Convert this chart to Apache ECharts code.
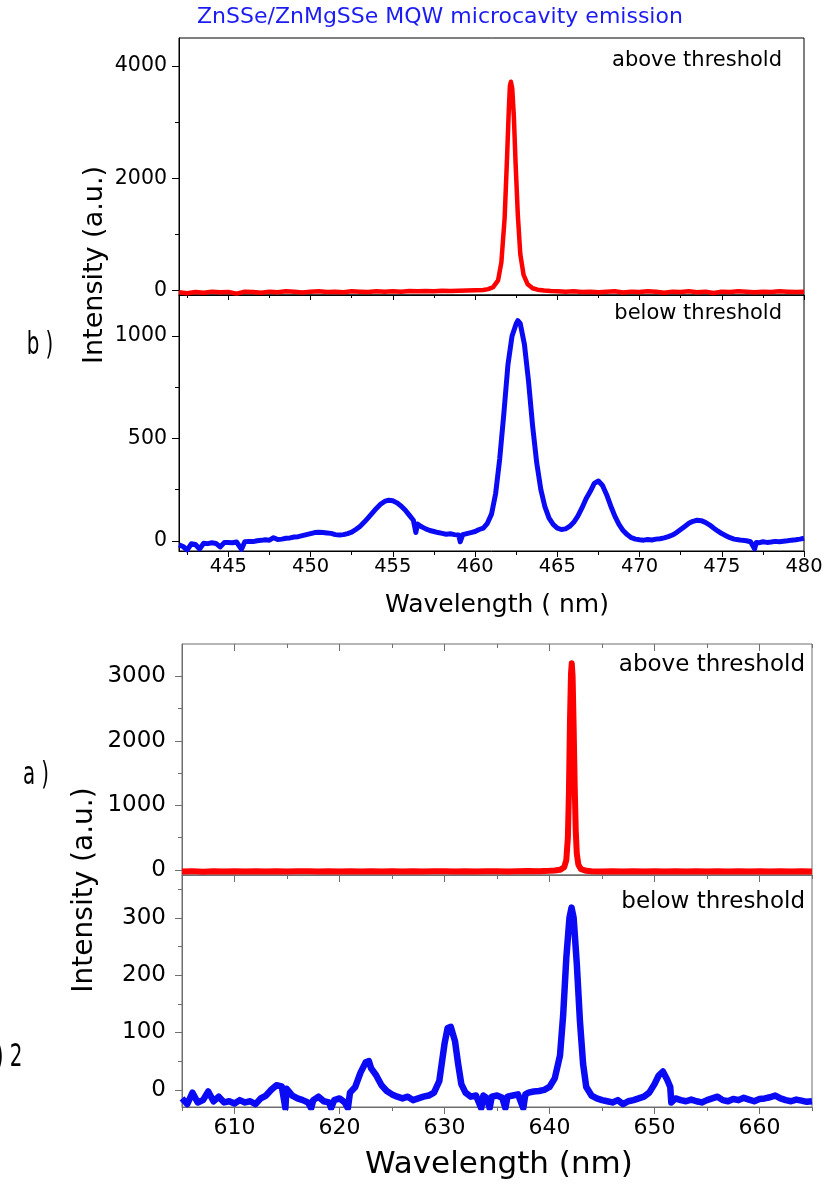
<!DOCTYPE html>
<html>
<head>
<meta charset="utf-8">
<script src="https://cdn.jsdelivr.net/npm/echarts@6/dist/echarts.min.js"></script>
<style>
  html, body { margin: 0; padding: 0; background: #fff; }
  #chart { width: 827px; height: 1195px; }
</style>
</head>
<body>
<div id="chart"></div>
<script>
// ---- Spectra: [wavelength (nm), intensity (a.u.)] ----

// b) ~462 nm cavity, above threshold
const bAbove = [
  [442,-30],[442.5,-50],[443,-25],[443.5,-40],[444,-20],[444.5,-30],[445,-25],[445.5,-55],[446,-20],[446.5,-25],
  [447,-40],[447.5,-20],[448,-30],[448.5,-15],[449,-20],[449.5,-35],[450,-20],[450.5,-15],[451,-25],[451.5,-20],
  [452,-30],[452.5,-15],[453,-20],[453.5,-25],[454,-15],[454.5,-20],[455,-15],[455.5,-20],[456,-10],[456.5,-15],
  [457,-10],[457.5,-15],[458,-5],[458.5,-10],[459,-5],[459.5,0],[460,5],[460.5,10],[460.8,25],[461.1,60],
  [461.4,180],[461.6,500],[461.8,1300],[461.95,2400],[462.05,3200],[462.12,3650],[462.18,3720],[462.26,3600],
  [462.36,3100],[462.46,2300],[462.6,1350],[462.75,650],[462.95,280],[463.2,110],[463.5,40],[463.8,15],[464.2,0],
  [464.6,-10],[465,-15],[465.5,-20],[466,-15],[466.5,-25],[467,-20],[467.5,-30],[468,-20],[468.5,-15],[469,-35],
  [469.5,-20],[470,-25],[470.5,-15],[471,-20],[471.5,-40],[472,-20],[472.5,-25],[473,-15],[473.5,-30],[474,-20],
  [474.5,-45],[475,-20],[475.5,-25],[476,-15],[476.5,-20],[477,-30],[477.5,-20],[478,-25],[478.5,-15],[479,-20],
  [479.5,-25],[480,-20]
];

// b) ~462 nm cavity, below threshold
const bBelow = [
  [442,-20],[442.25,-28],[442.5,-45],[442.75,-15],[443,-18],[443.25,-40],[443.5,-12],[443.75,-14],[444,-10],
  [444.25,-13],[444.5,-30],[444.75,-9],[445,-8],[445.25,-10],[445.5,-6],[445.8,-42],[446,-5],[446.25,-3],
  [446.5,-4],[446.75,0],[447,2],[447.25,5],[447.5,3],[447.75,15],[448,6],[448.25,8],[448.5,12],[448.75,14],
  [449,18],[449.25,20],[449.5,25],[449.75,30],[450,35],[450.25,40],[450.5,42],[450.75,40],[451,38],[451.25,36],
  [451.5,30],[451.75,28],[452,30],[452.25,35],[452.5,42],[452.75,55],[453,70],[453.25,90],[453.5,112],
  [453.75,135],[454,158],[454.25,178],[454.5,192],[454.75,198],[455,195],[455.25,185],[455.5,170],[455.75,150],
  [456,125],[456.25,100],[456.4,40],[456.5,82],[456.75,68],[457,58],[457.25,50],[457.5,45],[457.75,40],
  [458,36],[458.25,32],[458.5,34],[458.75,30],[459,28],[459.1,-5],[459.25,30],[459.5,35],[459.75,40],[460,45],
  [460.25,55],[460.5,62],[460.75,85],[461,130],[461.25,230],[461.5,400],[461.75,620],[462,860],[462.25,1000],
  [462.5,1060],[462.6,1075],[462.75,1060],[463,960],[463.25,780],[463.5,560],[463.75,380],[464,250],[464.25,165],
  [464.5,110],[464.75,80],[465,62],[465.25,55],[465.5,58],[465.75,70],[466,90],[466.25,120],[466.5,160],
  [466.75,205],[467,240],[467.25,280],[467.5,292],[467.75,270],[468,225],[468.25,170],[468.5,120],[468.75,80],
  [469,50],[469.25,30],[469.5,15],[469.75,8],[470,5],[470.25,3],[470.5,6],[470.75,4],[471,8],[471.25,10],
  [471.5,14],[471.75,20],[472,28],[472.25,40],[472.5,55],[472.75,70],[473,85],[473.25,95],[473.5,100],
  [473.75,98],[474,90],[474.25,78],[474.5,62],[474.75,48],[475,35],[475.25,25],[475.5,15],[475.75,8],[476,5],
  [476.25,2],[476.5,0],[476.75,-5],[477,-40],[477.1,-8],[477.25,-10],[477.5,-5],[477.75,-8],[478,-6],
  [478.25,-3],[478.5,-5],[478.75,-2],[479,0],[479.25,3],[479.5,5],[479.75,8],[480,12]
];

// a) ~642 nm cavity, above threshold
const aAbove = [
  [605,-25],[606,-20],[607,-28],[608,-22],[609,-25],[610,-20],[611,-26],[612,-22],[613,-25],[614,-21],
  [615,-27],[616,-23],[617,-20],[618,-26],[619,-22],[620,-24],[621,-20],[622,-25],[623,-22],[624,-27],
  [625,-21],[626,-24],[627,-20],[628,-25],[629,-22],[630,-20],[631,-24],[632,-21],[633,-26],[634,-22],
  [635,-20],[636,-24],[637,-21],[638,-18],[639,-20],[640,-15],[640.5,-10],[641,0],[641.4,40],[641.6,150],
  [641.75,500],[641.85,1200],[641.95,2300],[642.05,3050],[642.12,3200],[642.2,3000],[642.3,2200],[642.4,1300],
  [642.5,600],[642.6,250],[642.75,80],[643,10],[643.5,-15],[644,-22],[645,-25],[646,-21],[647,-26],[648,-22],
  [649,-24],[650,-20],[651,-25],[652,-22],[653,-27],[654,-21],[655,-24],[656,-22],[657,-26],[658,-20],
  [659,-24],[660,-22],[661,-25],[662,-21],[663,-26],[664,-23],[665,-24]
];

// a) ~642 nm cavity, below threshold
const aBelow = [
  [605,-15],[605.5,-25],[606,-5],[606.5,-22],[607,-18],[607.5,-3],[608,-20],[608.5,-12],[609,-22],[609.5,-20],
  [610,-24],[610.5,-18],[611,-22],[611.5,-20],[612,-25],[612.5,-15],[613,-10],[613.5,0],[614,8],[614.5,6],
  [614.85,-32],[614.95,2],[615,0],[615.5,-10],[616,-15],[616.5,-18],[617,-22],[617.3,-32],[617.5,-18],
  [618,-12],[618.5,-20],[619,-22],[619.2,-32],[619.5,-18],[620,-15],[620.5,-22],[620.8,-32],[621,-5],
  [621.5,5],[622,30],[622.5,48],[622.8,50],[623,38],[623.5,25],[624,8],[624.5,-2],[625,-8],[625.5,-12],
  [626,-15],[626.5,-12],[627,-18],[627.5,-15],[628,-12],[628.5,-10],[629,-5],[629.5,15],[630,80],[630.3,108],
  [630.6,110],[631,85],[631.3,45],[631.6,10],[632,-5],[632.5,-12],[633,-10],[633.5,-32],[633.7,-10],[634,-14],
  [634.3,-32],[634.5,-12],[635,-10],[635.5,-14],[635.8,-32],[636,-12],[636.5,-10],[637,-8],[637.5,-32],
  [637.7,-8],[638,-5],[638.5,-3],[639,-2],[639.5,0],[640,5],[640.5,20],[641,60],[641.3,130],[641.6,230],
  [641.9,300],[642.1,318],[642.3,300],[642.6,220],[642.9,120],[643.2,45],[643.5,5],[644,-10],[644.5,-15],
  [645,-18],[645.5,-20],[646,-22],[646.5,-18],[647,-25],[647.5,-20],[648,-18],[648.5,-15],[649,-12],[649.5,-5],
  [650,10],[650.4,25],[650.8,32],[651.2,18],[651.5,5],[651.6,-22],[652,-15],[652.5,-18],[653,-20],[653.5,-17],
  [654,-20],[654.5,-22],[655,-18],[655.5,-15],[656,-12],[656.5,-18],[657,-20],[657.5,-16],[658,-18],
  [658.5,-14],[659,-17],[659.5,-20],[660,-16],[660.5,-15],[661,-13],[661.5,-10],[662,-15],[662.5,-18],
  [663,-20],[663.5,-17],[664,-19],[664.5,-21],[665,-20]
];

// ---- Axis ticks ----
const bWlMajor = [445, 450, 455, 460, 465, 470, 475, 480];
const bWlMinor = [442.5, 447.5, 452.5, 457.5, 462.5, 467.5, 472.5, 477.5];
const aWlMajor = [610, 620, 630, 640, 650, 660];
const aWlMinor = [605, 615, 625, 635, 645, 655, 665];
const bAboveMajor = [0, 2000, 4000];
const bAboveMinor = [1000, 3000];
const bBelowMajor = [0, 500, 1000];
const bBelowMinor = [250, 750];
const aAboveMajor = [0, 1000, 2000, 3000];
const aAboveMinor = [500, 1500, 2500];
const aBelowMajor = [0, 100, 200, 300];
const aBelowMinor = [50, 150, 250, 350];

// ---- Texts ----
const titleText = 'ZnSSe/ZnMgSSe MQW microcavity emission';
const aboveText = 'above threshold';
const belowText = 'below threshold';
const yTitle = 'Intensity (a.u.)';
const xTitleB = 'Wavelength ( nm)';
const xTitleA = 'Wavelength (nm)';

const FONT = '"DejaVu Sans", "Liberation Sans", sans-serif';
const INK_B = '#000000';
const INK_A = '#6e6e6e';
const RED = '#ff0000';
const BLUE = '#0a0af5';

const xAxes = [];
const yAxes = [];

function axis(list, grid, min, max, o) {
  list.push({
    type: 'value', gridIndex: grid, min: min, max: max, position: o.pos,
    axisLine: { show: !!o.line, onZero: false, lineStyle: { color: o.color, width: 1 } },
    axisTick: o.ticks ? { show: true, inside: !!o.inside, length: o.len, customValues: o.ticks,
                          lineStyle: { color: o.color, width: 1 } } : { show: false },
    axisLabel: o.labels ? { show: true, customValues: o.labels, margin: o.margin, fontFamily: FONT,
                            fontSize: o.fs, color: '#000', formatter: function (v) { return String(v); } }
                        : { show: false },
    splitLine: { show: false }
  });
  return list.length - 1;
}

// Panel b (upper figure)
const gB1 = 0, gB2 = 1, gA1 = 2, gA2 = 3;
const xB1 = axis(xAxes, gB1, 442, 480, { pos: 'bottom', line: true, color: INK_B });
const xB2 = axis(xAxes, gB2, 442, 480, { pos: 'bottom', line: true, color: INK_B, ticks: bWlMajor, len: 6,
                                       labels: bWlMajor, margin: 6, fs: 19.5 });
axis(xAxes, gB2, 442, 480, { pos: 'bottom', color: INK_B, ticks: bWlMinor, len: 4 });
axis(xAxes, gB2, 442, 480, { pos: 'top', color: INK_B, ticks: bWlMajor, len: 5, inside: true });
axis(xAxes, gB2, 442, 480, { pos: 'top', color: INK_B, ticks: bWlMinor, len: 3, inside: true });

const yB1 = axis(yAxes, gB1, -80, 4500, { pos: 'left', line: true, color: INK_B, ticks: bAboveMajor, len: 7,
                                        labels: bAboveMajor, margin: 12, fs: 20.5 });
axis(yAxes, gB1, -80, 4500, { pos: 'left', color: INK_B, ticks: bAboveMinor, len: 4 });
const yB2 = axis(yAxes, gB2, -50, 1200, { pos: 'left', line: true, color: INK_B, ticks: bBelowMajor, len: 7,
                                        labels: bBelowMajor, margin: 12, fs: 20.5 });
axis(yAxes, gB2, -50, 1200, { pos: 'left', color: INK_B, ticks: bBelowMinor, len: 4 });

// Panel a (lower figure)
const xA1 = axis(xAxes, gA1, 605, 665, { pos: 'bottom', line: true, color: INK_A });
axis(xAxes, gA1, 605, 665, { pos: 'top', color: INK_A, ticks: aWlMajor, len: 7, inside: true });
axis(xAxes, gA1, 605, 665, { pos: 'top', color: INK_A, ticks: aWlMinor, len: 4, inside: true });
const xA2 = axis(xAxes, gA2, 605, 665, { pos: 'bottom', line: true, color: INK_A, ticks: aWlMajor, len: 7,
                                       labels: aWlMajor, margin: 10, fs: 22 });
axis(xAxes, gA2, 605, 665, { pos: 'bottom', color: INK_A, ticks: aWlMinor, len: 4 });
axis(xAxes, gA2, 605, 665, { pos: 'top', color: INK_A, ticks: aWlMajor, len: 7, inside: true });
axis(xAxes, gA2, 605, 665, { pos: 'top', color: INK_A, ticks: aWlMinor, len: 4, inside: true });

const yA1 = axis(yAxes, gA1, -80, 3500, { pos: 'left', line: true, color: INK_A, ticks: aAboveMajor, len: 7,
                                        labels: aAboveMajor, margin: 16, fs: 23 });
axis(yAxes, gA1, -80, 3500, { pos: 'left', color: INK_A, ticks: aAboveMinor, len: 4 });
const yA2 = axis(yAxes, gA2, -30, 375, { pos: 'left', line: true, color: INK_A, ticks: aBelowMajor, len: 7,
                                       labels: aBelowMajor, margin: 16, fs: 23 });
axis(yAxes, gA2, -30, 375, { pos: 'left', color: INK_A, ticks: aBelowMinor, len: 4 });

function spectrum(data, xi, yi, color, width) {
  return {
    type: 'line', data: data, xAxisIndex: xi, yAxisIndex: yi, showSymbol: false, symbol: 'none',
    clip: true, lineStyle: { color: color, width: width, join: 'round' }, itemStyle: { color: color },
    emphasis: { disabled: true }, z: 3
  };
}

function label(text, x, y, size, align, extra, fill) {
  return Object.assign({
    type: 'text', x: x, y: y, silent: true,
    style: { text: text, font: 'normal ' + size + 'px ' + FONT, fill: fill || '#000',
             textAlign: align, textVerticalAlign: 'middle' }
  }, extra || {});
}

const chart = echarts.init(document.getElementById('chart'), null, { renderer: 'canvas' });
chart.setOption({
  animation: false,
  backgroundColor: '#ffffff',
  grid: [
    { left: 179, top: 38, width: 625, height: 257, show: true, borderColor: INK_B, borderWidth: 1 },
    { left: 179, top: 295, width: 625, height: 256, show: true, borderColor: INK_B, borderWidth: 1 },
    { left: 182, top: 644, width: 630, height: 231, show: true, borderColor: INK_A, borderWidth: 1 },
    { left: 182, top: 875, width: 630, height: 232, show: true, borderColor: INK_A, borderWidth: 1 }
  ],
  xAxis: xAxes,
  yAxis: yAxes,
  series: [
    spectrum(bAbove, xB1, yB1, RED, 4.5),
    spectrum(bBelow, xB2, yB2, BLUE, 5),
    spectrum(aAbove, xA1, yA1, RED, 6),
    spectrum(aBelow, xA2, yA2, BLUE, 6.5)
  ],
  graphic: [
    label(titleText, 197, 17, 22, 'left', null, '#1c1cf2'),
    label(aboveText, 782, 61, 21, 'right'),
    label(belowText, 782, 314, 21, 'right'),
    label(aboveText, 805, 665, 23, 'right'),
    label(belowText, 805, 902, 23, 'right'),
    label(xTitleB, 497, 605, 25, 'center'),
    label(xTitleA, 499, 1165, 31, 'center'),
    label(yTitle, 95, 265, 27, 'center', { rotation: Math.PI / 2 }),
    label(yTitle, 85, 890, 28, 'center', { rotation: Math.PI / 2 }),
    label('b )', 40, 346, 32, 'center', { scaleX: 0.62 }),
    label('a )', 36, 776, 32, 'center', { scaleX: 0.62 }),
    label(') 2', 9, 1058, 32, 'center', { scaleX: 0.62 })
  ]
});
</script>
</body>
</html>
